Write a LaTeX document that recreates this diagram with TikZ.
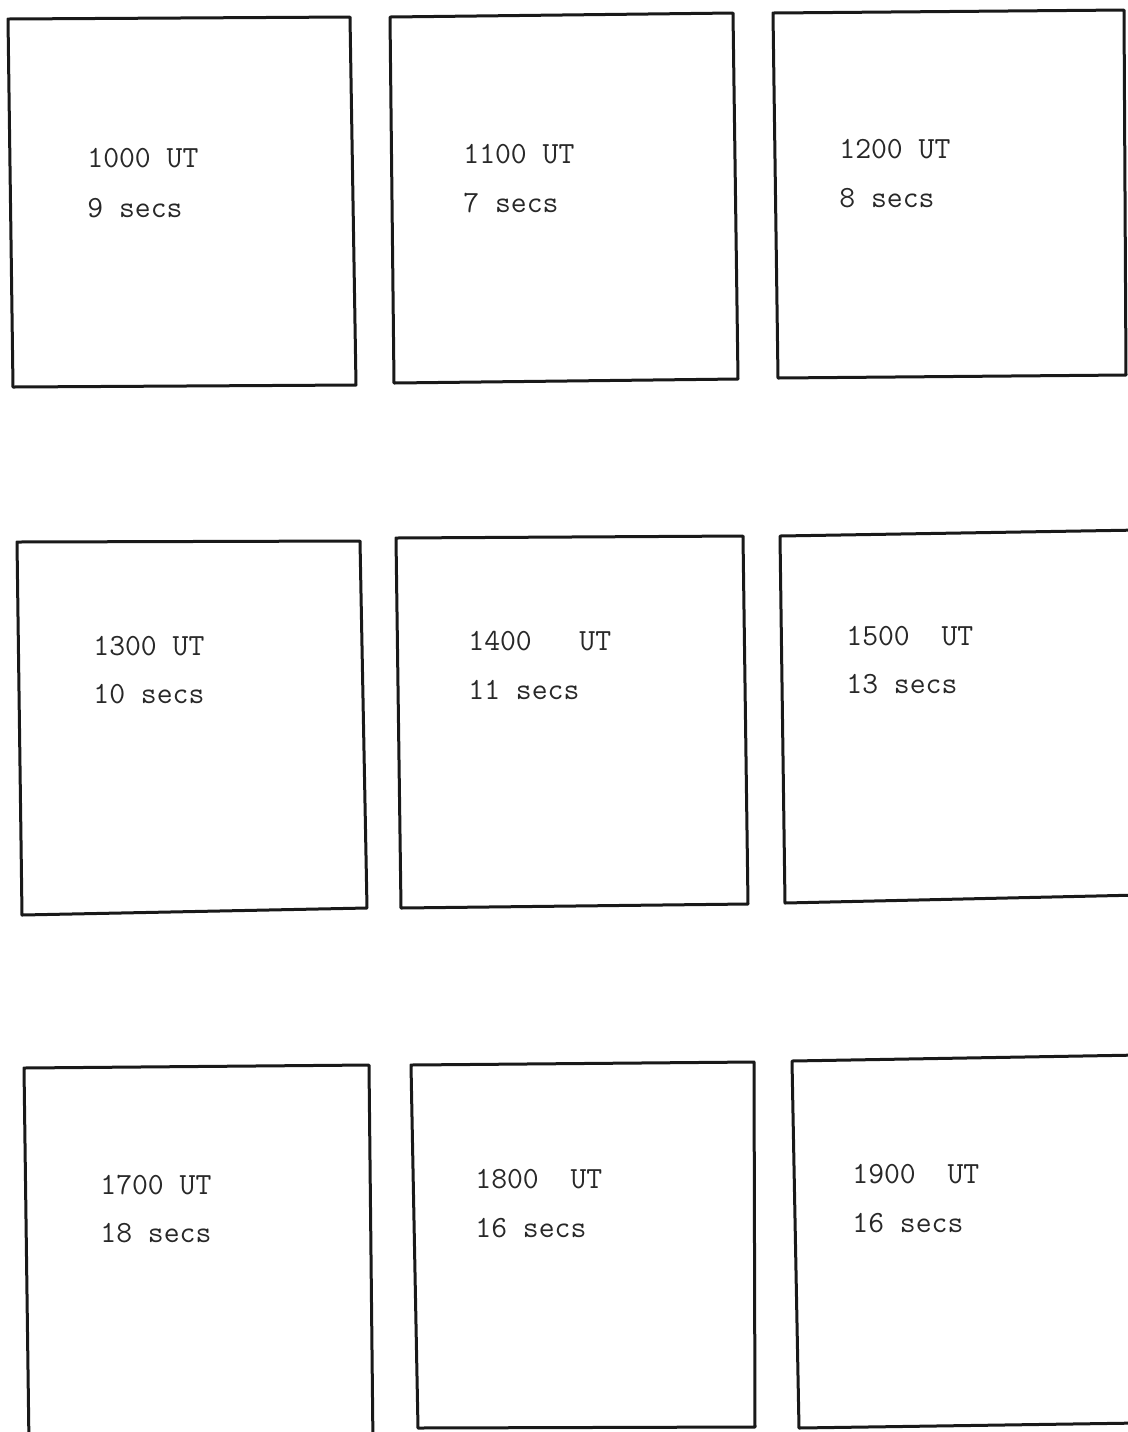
\documentclass[tikz,border=0pt]{standalone}
\usepackage{fontspec}
\usetikzlibrary{positioning}
\definecolor{InkBlack}{RGB}{25,25,25}
\definecolor{TypeGray}{RGB}{40,40,40}

\begin{document}
\begin{tikzpicture}[x=0.5pt,y=-0.5pt,
    panel/.style={line width=1.5pt,InkBlack,line join=round},
    lbl/.style={anchor=base west,inner sep=0pt,TypeGray,
      font=\ttfamily\fontsize{15.4}{18}\selectfont}]
      \useasboundingbox[fill=white] (0,0) rectangle (1128,1432);
      \clip (0,0) rectangle (1128,1432);
      % top row
      \draw[panel] (8,19)--(350,17)--(356,385)--(13,387)--cycle;
      \draw[panel] (390,17)--(733,13)--(738,379)--(394,383)--cycle;
      \draw[panel] (773,13)--(1124,10)--(1126,375)--(778,378)--cycle;
      % middle row
      \draw[panel] (17,542)--(360,541)--(367,908)--(22,915)--cycle;
      \draw[panel] (396,538)--(743,536)--(748,904)--(401,908)--cycle;
      \draw[panel] (1140,530)--(780,536)--(785,903)--(1140,895);
      % bottom row, running off the page
      \draw[panel] (29,1445)--(24,1068)--(369,1065)--(373,1445);
      \draw[panel] (411,1065)--(754,1062)--(755,1427)--(418,1428)--cycle;
      \draw[panel] (1140,1055)--(792,1061)--(799,1428)--(1140,1423);
      % times and exposures
      \node[lbl] (t1) at (87,167) {1000 UT};
      \node[lbl] (s1) at (87,217) {9 secs};
      \node[lbl] (t2) at (463,163) {1100 UT};
      \node[lbl] (s2) at (463,212) {7 secs};
      \node[lbl] (t3) at (839,158) {1200 UT};
      \node[lbl] (s3) at (839,207) {8 secs};
      \node[lbl] (t4) at (93,655) {1300 UT};
      \node[lbl] (s4) at (93,703) {10 secs};
      \node[lbl] (t5) at (468,650) {1400~~~UT};
      \node[lbl] (s5) at (468,699) {11 secs};
      \node[lbl] (t6) at (846,645) {1500~~UT};
      \node[lbl] (s6) at (846,693) {13 secs};
      \node[lbl] (t7) at (100,1194) {1700 UT};
      \node[lbl] (s7) at (100,1242) {18 secs};
      \node[lbl] (t8) at (475,1188) {1800~~UT};
      \node[lbl] (s8) at (475,1237) {16 secs};
      \node[lbl] (t9) at (852,1183) {1900~~UT};
      \node[lbl] (s9) at (852,1232) {16 secs};
    \end{tikzpicture}
\end{document}
